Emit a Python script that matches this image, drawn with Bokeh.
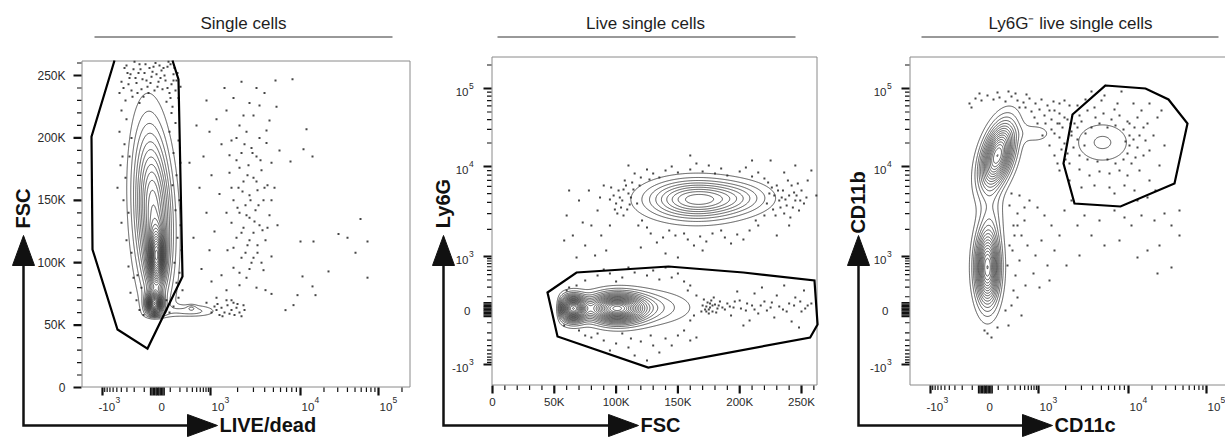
import numpy as np
from bokeh.plotting import figure
from bokeh.layouts import row
from bokeh.models import Range1d
from bokeh.core.properties import value
from bokeh.embed import file_html
from bokeh.resources import INLINE

FONT = "Liberation Sans"
INK = "#111111"
FRAME = "#8a8a8a"
LABEL_INK = "#2a2a2a"
H = 441

# ---------------- texts ----------------
TITLES = ["Single cells", "Live single cells", "Ly6G\u207b live single cells"]
X_NAMES = ["LIVE/dead", "FSC", "CD11c"]
Y_NAMES = ["FSC", "Ly6G", "CD11b"]

# ---------------- axis data ----------------
FSC_MAJOR = [0, 50, 100, 150, 200, 250]                 # thousands
FSC_LABELS = ["0", "50K", "100K", "150K", "200K", "250K"]
FSC_MINOR = [v for v in range(0, 270, 10) if v % 50]
BIEX_BASE = ["-10", "0", "10", "10", "10"]
BIEX_EXP = ["3", "", "3", "4", "5"]
BIEX_CH = [21, 76, 129, 219, 297]       # display channel of -1e3, 0, 1e3, 1e4, 1e5

# ---------------- panel 1 : LIVE/dead (channel) vs FSC (K) ----------------
P1_GATE_X = [33, 10, 11, 36, 66, 101, 97, 91]
P1_GATE_Y = [262, 201, 110.6, 46.5, 31.2, 88.9, 246.8, 262]
P1_POP = dict(cx=[72, 75, 73, 110, 110], cy=[140, 104, 67, 61, 64],
              sx=[12, 5, 5, 16, 3], sy=[43, 14, 6, 3.5, 1.5],
              w=[1.2, 1.5, 1.8, 0.25, 0.15], rho=[-0.2, 0, 0, 0, 0])
P1_DOTS = [
    (45,258),(52,255),(58,259),(63,252),(68,256),(74,260),(80,254),(86,257),(92,251),(48,248),
    (55,244),(61,247),(70,249),(77,245),(84,246),(90,243),(42,240),(50,238),(66,241),(73,238),
    (81,239),(88,236),(94,238),(57,252),(65,246),(71,253),(83,250),(46,252),(60,239),(78,258),
    (87,261),(53,261),(40,245),(95,246),(62,233),(85,229),(91,225),(44,230),
    (43,256),(49,251),(54,248),(59,255),(64,259),(69,244),(75,251),(79,248),(82,256),(89,259),
    (93,256),(96,252),(47,243),(56,236),(67,236),(76,241),(86,240),(92,246),(51,233),(99,241),
    (58,228),(97,232),(38,236),(72,257),
    (40,222),(45,215),(38,205),(43,195),(48,185),(39,178),(44,168),(36,160),(42,150),(47,140),
    (40,132),(45,118),(50,108),(47,97),(52,88),(49,76),(55,70),(41,185),(50,200),
    (58,62),(62,58),(88,60),(92,65),(85,70),(60,80),(56,90),
    (90,220),(94,212),(88,205),(97,198),(92,188),(99,180),(95,170),(91,162),(98,150),(94,142),
    (99,130),(96,120),(100,110),(93,100),(98,92),(95,84),(101,78),(97,72),(89,232),
    (160,245),(175,240),(152,232),(168,228),(183,236),(145,222),(172,218),(188,214),(158,210),
    (165,205),(178,200),(150,198),(185,196),(170,192),(160,188),(175,185),(155,182),(190,180),
    (167,178),(180,174),(148,172),(172,168),(162,165),(186,162),(157,160),(176,158),(168,154),
    (152,150),(182,150),(164,146),(174,142),(158,140),(188,138),(168,136),(150,132),(178,130),
    (162,128),(172,124),(155,120),(184,118),(166,114),(146,110),(176,108),(160,104),(170,100),
    (152,96),(182,94),(140,90),(165,88),(130,85),(158,82),(145,78),(175,80),(135,72),(150,70),
    (125,68),(162,66),(120,95),(128,110),(133,125),(125,140),(138,155),(130,170),(122,185),
    (140,195),(128,205),(135,215),(195,225),(198,190),(193,160),(196,130),(190,105),(143,240),
    (125,230),(118,160),(112,120),(108,180),(115,210),
    (155,200),(163,195),(171,188),(179,182),(158,176),(166,170),(175,165),(183,160),(161,157),
    (169,150),(177,146),(156,144),(165,138),(173,133),(181,126),(160,124),(168,118),(176,114),
    (152,112),(164,108),(172,104),(180,100),(158,92),(168,95),(148,186),(185,206),(162,218),
    (178,226),(150,160),(190,150),(145,140),(186,128),
    (130,60),(135,62),(138,58),(140,64),(143,60),(146,66),(148,59),(150,62),(153,58),(155,64),
    (158,60),(160,57),(163,62),(145,70),(136,67),(152,68),(133,65),(141,57),(156,67),
    (225,207),(222,191),(231,185),(209,181),(211,247),(194,246),(279,135),(257,123),(266,120),
    (274,108),(286,117),(232,117),(219,117),(247,93),(286,88),(221,89),(231,81),(234,74),
    (216,74),(212,66),(204,62),(184,78),(190,75)]

# ---------------- panel 2 : FSC (K) vs Ly6G (channel) ----------------
P2_GATE_X = [44.5, 68, 142.4, 203, 260.5, 263, 257, 126, 52.6]
P2_GATE_Y = [93, 113, 119, 113, 105, 61, 48, 18, 49]
P2_POP = dict(cx=[65, 100, 120, 165, 202], cy=[77, 77, 78, 186, 188],
              sx=[7, 14, 25, 25, 18], sy=[8, 9, 11, 12.4, 10],
              w=[2.0, 1.8, 0.35, 0.95, 0.2], rho=[0, 0, 0, 0, 0])
P2_DOTS = [
    (98,190),(102,195),(105,185),(108,200),(110,192),(104,178),(100,182),(112,188),(107,205),
    (96,198),(101,172),(109,176),(113,203),(95,186),(106,196),(111,181),
    (103,188),(99,176),(106,170),(114,196),(117,182),(119,200),(115,212),(121,165),(127,206),
    (120,208),(130,212),(140,215),(150,213),(160,216),(170,214),(180,212),(190,210),(200,214),
    (210,209),(125,216),(145,219),(175,220),(205,218),(220,207),(135,208),(185,217),(165,222),
    (118,160),(128,152),(138,148),(148,150),(158,146),(168,149),(178,152),(188,148),(198,151),
    (208,155),(215,160),(133,143),(163,140),(193,142),(143,155),(173,144),(203,146),(125,158),
    (155,152),(185,155),
    (228,190),(232,185),(235,195),(238,180),(240,190),(242,200),(236,172),(230,200),(245,185),
    (248,175),(233,178),(239,205),(244,193),(227,176),(250,195),(241,168),(226,198),(234,188),
    (247,202),(252,182),(222,182),(224,192),(229,170),(231,195),(237,186),(243,178),(246,190),
    (249,185),(254,188),(223,203),(215,213),(220,170),(213,165),
    (60,170),(65,150),(70,185),(75,140),(80,160),(85,175),(88,150),(92,135),(68,128),(78,195),
    (90,200),(58,145),(83,130),(73,163),(95,160),(87,188),(62,195),
    (140,132),(150,128),(120,138),(170,135),(255,205),(258,215),(245,220),(262,190),(230,150),
    (240,160),(225,225),(110,220),(160,230),(210,225),(236,213),
    (170,80),(172,76),(174,83),(176,78),(178,74),(180,81),(182,77),(175,72),(171,86),(179,88),
    (184,84),(173,79),(177,85),(181,73),(169,74),(186,78),
    (175,76),(178,80),(176,82),(173,74),(183,80),(188,76),(192,79),(196,84),(201,77),(206,82),
    (212,76),(217,80),(222,75),(226,83),(232,79),(238,74),(244,80),(249,84),(253,77),(258,82),
    (190,82),(195,78),(200,85),(205,75),(210,80),(215,72),(220,84),(225,78),(230,90),(235,76),
    (240,82),(245,88),(250,74),(255,80),(198,94),(212,92),(228,68),(242,64),(252,95),(208,65),
    (218,98),(236,100),(193,70),(248,58),(203,60),
    (75,105),(85,110),(95,112),(105,108),(115,113),(125,110),(135,106),(145,108),(155,104),
    (90,116),(110,118),(130,115),(150,112),(160,100),(140,118),(100,104),
    (68,100),(62,98),(60,95),(58,60),(70,55),(75,50),(160,65),(165,90),(163,70),(158,95),
    (80,48),(90,45),(100,42),(110,38),(120,44),(130,40),(140,47),(150,50),(160,45),(95,35),
    (115,30),(125,25),(105,52),(135,33),(145,40),(85,52),(155,55),(112,47),(128,50),(165,48)]

# ---------------- panel 3 : CD11c (channel) vs CD11b (channel) ----------------
P3_GATE_X = [196, 236, 259, 278, 265, 211, 165, 154, 163]
P3_GATE_Y = [300, 297, 286, 262, 202, 179, 182, 222, 271]
P3_POP = dict(cx=[88, 78, 82, 126, 193], cy=[230, 118, 172, 252, 243],
              sx=[11, 7.7, 8, 12, 19], sy=[21, 24, 20, 7, 14],
              w=[1.6, 1.6, 0.2, 0.15, 0.22], rho=[0.45, 0, 0, 0, 0])
P3_DOTS = [
    (60,282),(66,287),(72,285),(78,290),(84,286),(90,288),(96,284),(102,289),(108,285),(114,283),
    (120,287),(126,282),(132,286),(138,280),(70,292),(88,293),(106,292),(62,278),(144,284),
    (150,282),(99,294),(117,291),
    (135,270),(142,266),(148,262),(153,258),(158,266),(162,254),(140,275),(150,272),(165,262),
    (145,252),
    (150,262),(155,268),(161,262),(168,258),(172,264),(176,252),(182,258),(190,262),(198,258),
    (206,260),(214,256),(220,250),(224,246),(218,232),(214,226),(206,222),(198,226),(188,224),
    (178,226),(170,230),(164,238),(168,246),(175,240),(216,244),(220,262),(228,268),(234,258),
    (205,276),(185,278),(168,280),(155,285),(145,275),(130,276),(125,268),(136,262),(142,256),
    (150,248),(152,236),(156,226),(148,222),(140,240),(133,250),(128,262),(122,274),(116,278),
    (110,278),
    (170,270),(178,275),(186,268),(194,272),(202,266),(210,270),(218,264),(225,258),(230,250),
    (236,245),(228,238),(234,230),(222,222),(230,215),(218,210),(210,215),(200,212),(190,214),
    (180,210),(170,216),(160,222),(158,232),(155,242),(162,250),(220,240),(226,228),(240,235),
    (244,250),(238,262),(232,275),(240,282),(224,282),(208,282),(192,285),(176,286),(160,280),
    (248,268),(215,200),(200,198),(185,200),(172,198),(160,205),(150,215),(145,230),(205,192),
    (225,195),(240,205),(250,220),(246,195),(195,290),(182,294),(212,294),(255,240),(252,275),
    (238,188),(228,185),
    (100,180),(108,172),(115,165),(104,160),(112,150),(120,185),(128,178),(135,170),(142,160),
    (118,140),(126,130),(110,125),(132,145),(138,120),(145,135),(150,150),(155,175),(162,185),
    (168,160),(175,170),(182,150),(100,140),(106,110),(116,100),(124,112),(104,95),(98,120),
    (130,98),(140,105),(170,130),(190,165),(195,140),(157,120),(102,80),(112,70),(96,75),
    (108,88),(99,60),(102,192),(105,150),(110,190),(115,178),(103,135),(108,160),
    (205,175),(215,168),(222,160),(232,170),(245,165),(255,172),(262,160),(270,150),(250,140),
    (238,135),(228,128),(262,118),(248,112),(270,175),(210,145),
    (78,52),(82,48),(75,55),(88,58)]


def text_width(s, size):
    return size * sum(0.333 if c == "-" else 0.278 if c == " " else 0.556 for c in s)


def biex_ticks(ch):
    n1, z, a, b, c = ch
    w = 150.0
    s = np.arcsinh(1000.0 / w)
    blob, minor = [], []
    for v in (10, 20, 30, 40, 50):
        f = np.arcsinh(v / w) / s
        blob += [z + (a - z) * f, z - (z - n1) * f]
    for v in range(100, 1000, 100):
        f = np.arcsinh(v / w) / s
        minor += [z + (a - z) * f, z - (z - n1) * f]
    for k in range(2, 10):
        lg = np.log10(k)
        minor += [a + (b - a) * lg, b + (c - b) * lg, c + (c - b) * lg]
    return list(ch), blob, minor


class Panel:
    def __init__(self, x0, x1, ax, bx, ay, by, box):
        self.ax, self.bx, self.ay, self.by = ax, bx, ay, by
        self.fl, self.fr, self.ft, self.fb = box
        self.p = figure(width=x1 - x0, height=H,
                        x_range=Range1d(self.X(x0), self.X(x1)),
                        y_range=Range1d(self.Y(H), self.Y(0)),
                        output_backend="svg", toolbar_location=None,
                        x_axis_type=None, y_axis_type=None, min_border=0,
                        outline_line_color=None, background_fill_color="white",
                        border_fill_color="white")

    def X(self, px):
        return (px - self.ax) / self.bx

    def Y(self, py):
        return (self.ay - py) / self.by

    def xpx(self, x):
        return self.ax + x * self.bx

    def ypx(self, y):
        return self.ay - y * self.by

    # ---- frame / ticks / labels -------------------------------------
    def frame(self, closed=True):
        l, r, t, b = self.fl + 0.5, self.fr - 0.5, self.ft + 0.5, self.fb - 0.5
        if closed:
            xs, ys = [l, r, r, l, l], [t, t, b, b, t]
        else:
            xs, ys = [r + 2, l, l, r + 2], [t, t, b, b]
        self.p.line([self.X(v) for v in xs], [self.Y(v) for v in ys],
                    line_color=FRAME, line_width=1)

    def xticks(self, ticks, length, width):
        lo, hi = self.X(self.fl), self.X(self.fr)
        t = [v for v in ticks if lo <= v <= hi]
        n = len(t)
        self.p.segment(x0=t, y0=[self.Y(self.fb)] * n, x1=t, y1=[self.Y(self.fb + length)] * n,
                       line_color=INK, line_width=width)

    def yticks(self, ticks, length, width):
        lo, hi = self.Y(self.fb), self.Y(self.ft)
        t = [v for v in ticks if lo <= v <= hi]
        n = len(t)
        self.p.segment(x0=[self.X(self.fl)] * n, y0=t, x1=[self.X(self.fl - length)] * n, y1=t,
                       line_color=INK, line_width=width)

    def text(self, xs, ys, texts, size, align="left", baseline="middle", bold=False,
             angle=0.0, color=LABEL_INK):
        self.p.text(x=list(xs), y=list(ys), text=list(texts), text_font=value(FONT),
                    text_font_size=f"{size}px", text_color=color, text_align=align,
                    text_baseline=baseline, text_font_style="bold" if bold else "normal",
                    angle=angle)

    def biex_x_axis(self, ch):
        major, blob, minor = biex_ticks(ch)
        self.xticks(minor, 4.5, 1.2)
        self.xticks(blob, 8, 1.4)
        self.xticks(major, 8, 2.2)
        dx = [-4, 1, 1, 1, 1]
        bx = [self.xpx(c) + d for c, d in zip(ch, dx)]
        self.text([self.X(v) for v in bx], [self.Y(406)] * 5, BIEX_BASE, 11.5)
        ex = [(v + text_width(s, 11.5) + 0.3) for v, s in zip(bx, BIEX_BASE)]
        keep = [i for i, e in enumerate(BIEX_EXP) if e]
        self.text([self.X(ex[i]) for i in keep], [self.Y(399)] * len(keep),
                  [BIEX_EXP[i] for i in keep], 8.5)

    def biex_y_axis(self, ch):
        major, blob, minor = biex_ticks(ch)
        self.yticks(minor, 4.5, 1.2)
        self.yticks(blob, 8, 1.4)
        self.yticks(major, 8, 2.2)
        xs, ys, tx = [], [], []
        exs, eys, etx = [], [], []
        for c, b, e in zip(ch, BIEX_BASE, BIEX_EXP):
            py = self.ypx(c)
            if e:
                xs.append(self.X(self.fl - 23)); ys.append(self.Y(py + 3)); tx.append(b)
                exs.append(self.X(self.fl - 22.5)); eys.append(self.Y(py - 3)); etx.append(e)
            else:
                xs.append(self.X(self.fl - 21)); ys.append(self.Y(py + 1)); tx.append(b)
        self.text(xs, ys, tx, 11.5, align="right")
        self.text(exs, eys, etx, 8.5, align="left")

    # ---- data ---------------------------------------------------------
    def data(self, dots, xg, yg, Z, step, gx, gy, closed=True):
        dx, dy = zip(*dots)
        self.p.scatter(list(dx), list(dy), marker="square", size=2.0, fill_color="#262626",
                       line_color=None, fill_alpha=0.85)
        levels = list(np.arange(step, Z.max(), step))
        self.p.contour(x=xg, y=yg, z=Z, levels=levels, line_color="#2e2e2e", line_width=0.8)
        if closed:
            self.p.patch(gx, gy, fill_color=None, line_color="black", line_width=2.2,
                         line_join="miter")
        else:
            self.p.line(gx, gy, line_color="black", line_width=2.2, line_join="miter")

    # ---- titles & arrows ---------------------------------------------
    def decor(self, title, tcx, lx0, lx1, xname, yname, ax, tip_y, cy, tip_x, ylab_y):
        X, Y = self.X, self.Y
        self.text([X(tcx)], [Y(23)], [title], 17, align="center", color="#1e1e1e")
        self.p.line([X(lx0), X(lx1)], [Y(36.5), Y(36.5)], line_color="#333333", line_width=1)
        self.p.line([X(ax), X(ax), X(tip_x - 27)], [Y(tip_y + 27), Y(cy), Y(cy)],
                    line_color=INK, line_width=2.5, line_join="miter")
        self.p.patch([X(ax - 11), X(ax), X(ax + 11)], [Y(tip_y + 30), Y(tip_y), Y(tip_y + 30)],
                     fill_color=INK, line_color=INK, line_width=1)
        self.p.patch([X(tip_x - 30), X(tip_x), X(tip_x - 30)], [Y(cy - 11), Y(cy), Y(cy + 11)],
                     fill_color=INK, line_color=INK, line_width=1)
        self.text([X(ax - 1)], [Y(ylab_y)], [yname], 20, align="center", bold=True,
                  angle=np.pi / 2, color=INK)
        self.text([X(tip_x + 2)], [Y(cy - 0.5)], [xname], 20, align="left", bold=True, color=INK)


def mixture(xg, yg, pop):
    Xg, Yg = np.meshgrid(xg, yg)
    Z = np.zeros_like(Xg)
    for a, b, c, d, e, r in zip(pop["cx"], pop["cy"], pop["sx"], pop["sy"], pop["w"], pop["rho"]):
        dx = (Xg - a) / c
        dy = (Yg - b) / d
        Z += e * np.exp(-0.5 / (1 - r * r) * (dx * dx - 2 * r * dx * dy + dy * dy))
    return Xg, Yg, Z


ARROW_Y = 425

# ---------- panel 1 ----------
A = Panel(0, 420, 81, 1.0, 387, 1.248, (81, 410, 60, 387))
A.frame()
xg1 = np.linspace(0, 329, 400)
yg1 = np.linspace(0, 262, 500)
X1, Y1, Z1 = mixture(xg1, yg1, P1_POP)
Z1 = Z1 / (1 + np.exp(-(Y1 - 56) / 1.2))
A.data(P1_DOTS, xg1, yg1, Z1, 0.1, P1_GATE_X, P1_GATE_Y, closed=False)
A.biex_x_axis(BIEX_CH)
A.yticks(FSC_MINOR, 4.5, 1.2)
A.yticks(FSC_MAJOR, 8, 2.2)
A.text([A.X(81 - 16)] * 6, FSC_MAJOR, FSC_LABELS, 12, align="right")
A.decor(TITLES[0], 243, 94, 392, X_NAMES[0], Y_NAMES[0], 23, 235, ARROW_Y, 217, 208)

# ---------- panel 2 ----------
B = Panel(420, 830, 492, 1.236, 385, 1.0, (491, 817, 56, 385))
B.frame()
xg2 = np.linspace(-0.8, 263, 450)
yg2 = np.linspace(0, 329, 450)
X2, Y2, Z2 = mixture(xg2, yg2, P2_POP)
Z2 = Z2 / (1 + np.exp(-(X2 - 53) / 1.2))
B.data(P2_DOTS, xg2, yg2, Z2, 0.1, P2_GATE_X, P2_GATE_Y)
B.xticks(FSC_MINOR, 4.5, 1.2)
B.xticks(FSC_MAJOR, 8, 2.2)
B.text(FSC_MAJOR, [B.Y(401)] * 6, FSC_LABELS, 11.5, align="center")
B.biex_y_axis(BIEX_CH)
B.decor(TITLES[1], 645, 497, 795, X_NAMES[1], Y_NAMES[1], 443, 235, ARROW_Y, 638, 203)

# ---------- panel 3 ----------
C = Panel(830, 1225, 909, 1.0, 385, 1.0, (909, 1225, 56, 385))
C.frame(closed=False)
xg3 = np.linspace(0, 316, 420)
yg3 = np.linspace(0, 329, 450)
X3, Y3, Z3 = mixture(xg3, yg3, P3_POP)
C.data(P3_DOTS, xg3, yg3, Z3, 0.1, P3_GATE_X, P3_GATE_Y)
C.biex_x_axis(BIEX_CH)
C.biex_y_axis(BIEX_CH)
C.decor(TITLES[2], 1070, 921, 1218, X_NAMES[2], Y_NAMES[2], 858, 235, ARROW_Y, 1052, 202)

layout = row(A.p, B.p, C.p)
open("out.html", "w").write(file_html(layout, INLINE))
